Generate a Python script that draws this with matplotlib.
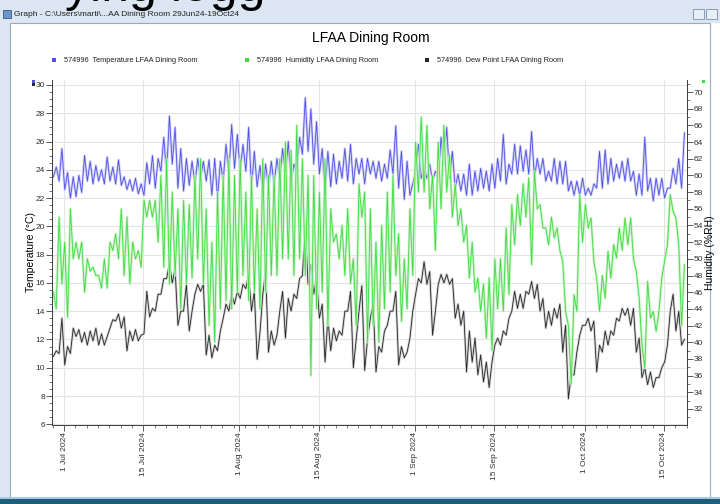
import numpy as np
import pandas as pd
import matplotlib
matplotlib.use('Agg')
import matplotlib.pyplot as plt
from matplotlib.patches import Rectangle

plt.rcParams['font.family'] = ['Liberation Sans', 'DejaVu Sans']

# ===== logger readings, twice a day (03:00 / 15:00), 29 Jun - 18 Oct 2024 =====
temp_am = [23.5, 23.2, 22.6, 22.0, 22.1, 22.4, 23.2, 23.0, 23.2, 23.0, 23.2, 23.0, 22.9, 22.6, 22.5, 22.3,
           22.2, 23.0, 22.7, 23.9, 23.7, 24.4, 22.7, 22.5, 22.9, 23.0, 23.4, 23.2, 22.2, 22.0, 23.2, 23.7,
           24.1, 23.9, 23.9, 22.7, 22.8, 22.5, 22.7, 23.0, 23.4, 23.7, 23.2, 23.9, 25.1, 25.3, 24.4, 23.7,
           22.5, 22.8, 23.0, 23.4, 23.2, 23.0, 23.7, 23.0, 23.7, 23.4, 23.2, 23.4, 23.7, 22.7, 21.9, 22.2,
           23.9, 23.4, 23.4, 23.2, 23.4, 24.4, 23.4, 22.7, 22.5, 22.2, 22.2, 22.5, 22.7, 22.5, 22.7, 23.2,
           23.0, 23.7, 23.7, 23.9, 23.7, 23.4, 23.7, 23.2, 23.2, 23.0, 23.0, 22.5, 22.2, 22.2, 22.2, 22.2,
           22.7, 22.7, 23.0, 23.2, 23.4, 23.2, 23.2, 22.2, 22.2, 22.5, 21.8, 22.2, 22.0, 22.7, 23.0, 22.7]
temp_pm = [24.2, 25.5, 23.8, 23.5, 23.6, 25.0, 24.6, 24.3, 24.0, 24.9, 24.2, 24.7, 23.5, 23.3, 23.4, 23.0,
           24.5, 25.0, 24.8, 26.3, 27.8, 27.0, 25.5, 24.8, 24.6, 24.8, 24.6, 24.7, 24.8, 24.6, 25.8, 27.2,
           26.5, 25.8, 27.0, 25.3, 24.3, 24.4, 24.6, 24.8, 25.5, 26.0, 24.4, 26.3, 29.1, 28.3, 27.4, 25.5,
           25.3, 25.1, 24.6, 25.5, 25.8, 24.8, 24.8, 24.8, 24.6, 24.6, 24.4, 25.4, 27.1, 25.3, 24.6, 23.0,
           25.8, 24.1, 24.4, 23.9, 26.3, 27.0, 25.3, 23.7, 23.7, 24.4, 23.9, 24.1, 23.9, 24.4, 24.8, 26.5,
           24.4, 25.8, 25.7, 25.4, 26.7, 24.8, 24.8, 23.9, 24.8, 24.6, 24.6, 23.2, 23.2, 23.4, 22.7, 23.0,
           25.3, 25.4, 24.8, 24.4, 24.6, 24.8, 23.9, 23.7, 26.3, 23.4, 23.4, 23.4, 22.7, 24.1, 24.8, 26.6]

hum_am = [46, 55, 52, 56, 52, 52, 50, 49, 48, 50, 52, 53, 56, 55, 52, 51,
          57, 57, 57, 60, 62, 58, 56, 57, 56.5, 60, 62, 56, 52, 58, 60, 62,
          60, 62, 58, 60, 56, 62, 60, 60, 62, 64, 63, 66, 62, 60, 60, 58,
          62, 56, 53, 54, 56, 50, 59, 58, 56, 52, 54, 58, 60, 53, 50, 56,
          64, 67, 66, 60, 64, 66, 62.5, 59, 56, 54, 52, 47.7, 47, 47.7, 50, 50,
          53.7, 56.5, 57.7, 59, 59.7, 60.5, 56.5, 53.7, 55, 53.7, 49.7, 42, 45.7, 57.7, 56.5, 54.9,
          47.7, 48, 50.9, 51.7, 53.7, 54.9, 54.9, 48.5, 39.7, 47.3, 43.7, 43.7, 49.7, 57.7, 54.9, 42]
hum_pm = [44, 47, 43, 50, 50, 46, 48.5, 48, 46.5, 46.5, 51, 50, 48, 47, 50, 49,
          55, 55, 52, 49, 47, 48, 44, 47, 47.7, 50, 47, 42, 40, 44, 45, 44,
          46, 48, 45, 46, 44, 46, 48, 48, 50, 50, 48, 50, 48, 36, 44, 46,
          42, 52, 50, 48, 47, 42, 55, 40, 42, 40, 44, 46, 48, 42.5, 44, 48,
          58, 58, 56, 51, 56, 58, 55, 54, 52, 47.7, 46, 43.7, 40.5, 39, 44, 43.7,
          45.7, 51.7, 54, 55, 49.3, 56, 53.7, 51.7, 52.5, 51, 43.7, 35, 43.7, 52, 53.7, 49.7,
          43.7, 45.3, 47.7, 50.1, 51, 51.7, 50, 45.3, 36.9, 42.9, 41.3, 47.7, 51.7, 55.7, 51.7, 49.3]

dew_am = [10.8, 11.0, 10.2, 11.0, 12.2, 11.8, 11.6, 11.9, 11.6, 11.6, 12.8, 13.3, 12.8, 11.2, 11.9, 11.9,
          12.4, 13.6, 14.0, 15.2, 16.3, 16.0, 13.0, 14.0, 12.6, 15.2, 15.4, 10.9, 10.7, 11.2, 13.5, 14.0,
          14.5, 14.9, 15.6, 14.0, 10.6, 15.2, 11.1, 11.6, 14.0, 12.1, 14.0, 14.9, 16.5, 15.9, 15.2, 13.5,
          10.4, 11.2, 11.9, 12.3, 14.0, 10.0, 14.0, 9.8, 13.5, 9.7, 11.1, 13.0, 14.0, 10.2, 10.7, 12.1,
          15.2, 16.0, 15.9, 12.3, 15.9, 16.0, 15.9, 13.5, 13.0, 9.7, 10.4, 9.5, 9.0, 8.6, 11.6, 11.6,
          12.3, 14.0, 14.2, 14.2, 15.2, 14.9, 14.0, 12.8, 13.0, 13.5, 11.1, 7.8, 9.5, 12.3, 13.0, 12.6,
          9.7, 11.1, 11.6, 12.3, 13.3, 13.7, 13.0, 11.1, 9.3, 8.8, 8.6, 9.3, 10.4, 14.0, 12.6, 11.6]
dew_pm = [11.2, 13.5, 11.5, 12.8, 12.7, 12.5, 12.6, 12.8, 12.4, 12.2, 13.4, 13.8, 13.6, 12.6, 12.7, 12.3,
          15.4, 14.2, 15.2, 16.3, 17.4, 17.0, 14.0, 15.9, 14.0, 15.9, 15.9, 12.3, 11.6, 12.6, 14.5, 15.2,
          15.4, 15.9, 16.6, 15.4, 12.5, 16.8, 12.6, 12.3, 15.4, 14.9, 15.2, 16.3, 19.9, 17.3, 16.3, 14.5,
          13.5, 12.8, 12.6, 14.0, 15.4, 12.0, 15.8, 12.0, 14.5, 11.5, 12.6, 14.0, 15.4, 11.5, 11.1, 14.0,
          16.3, 17.5, 16.8, 14.0, 16.6, 16.6, 16.3, 14.5, 14.0, 12.6, 12.1, 10.9, 10.4, 10.4, 12.1, 12.6,
          13.5, 15.4, 15.2, 15.4, 16.1, 15.9, 14.9, 14.0, 14.2, 14.5, 13.0, 9.5, 11.1, 13.0, 13.5, 13.3,
          11.6, 12.6, 12.6, 13.5, 14.2, 14.2, 14.2, 12.1, 10.0, 9.7, 9.3, 10.0, 11.6, 15.2, 14.0, 12.0]

tick_dates = ['2024-07-01', '2024-07-15', '2024-08-01', '2024-08-15',
              '2024-09-01', '2024-09-15', '2024-10-01', '2024-10-15']
tick_labels = ['1 Jul 2024', '15 Jul 2024', '1 Aug 2024', '15 Aug 2024',
               '1 Sep 2024', '15 Sep 2024', '1 Oct 2024', '15 Oct 2024']
legend_names = ['574996  Temperature LFAA Dining Room',
                '574996  Humidity LFAA Dining Room',
                '574996  Dew Point LFAA Dining Room']

C_TEMP, C_HUM, C_DEW = '#5050e6', '#3fdc3f', '#262626'
H_TEMP, H_HUM, H_DEW = '#cfcff6', '#c6f3c6', '#d2d2d2'


def interleave(a, b):
    out = np.empty(2 * len(a))
    out[0::2] = a
    out[1::2] = b
    return out


days = pd.date_range('2024-06-29', periods=len(temp_am), freq='D')
t = np.empty(2 * len(days), dtype='datetime64[ns]')
t[0::2] = (days + pd.Timedelta(hours=3)).values
t[1::2] = (days + pd.Timedelta(hours=15)).values

temp = interleave(temp_am, temp_pm)
hum = interleave(hum_am, hum_pm)
dew = interleave(dew_am, dew_pm)

W, H = 720, 504
fig = plt.figure(figsize=(7.2, 5.04), dpi=100)


def fx(px):
    return px / W


def fy(py):
    return 1 - py / H


# ----- window frame -----
fig.add_artist(Rectangle((0, fy(23)), 1, 23 / H, transform=fig.transFigure,
                         facecolor='#dce6f2', edgecolor='none', zorder=0))
fig.add_artist(Rectangle((0, 0), fx(10), 1, transform=fig.transFigure,
                         facecolor='#dce6f2', edgecolor='none', zorder=0))
fig.add_artist(Rectangle((fx(10), fy(497)), fx(700), 474 / H, transform=fig.transFigure,
                         facecolor='white', edgecolor='#9aaabd', lw=0.8, zorder=0))
fig.add_artist(Rectangle((0, 0), 1, 6 / H, transform=fig.transFigure,
                         facecolor='#1d5f7a', edgecolor='none', zorder=0))
fig.add_artist(Rectangle((0, fy(499)), 1, 2 / H, transform=fig.transFigure,
                         facecolor='#a9c8e6', edgecolor='none', zorder=0))
fig.add_artist(Rectangle((fx(3), fy(18)), fx(8), 8 / H, transform=fig.transFigure,
                         facecolor='#6f95c8', edgecolor='#35598c', lw=0.6, zorder=1))
for bx in (693, 706):
    fig.add_artist(Rectangle((fx(bx), fy(19)), fx(11), 10 / H, transform=fig.transFigure,
                             facecolor='#e8eef6', edgecolor='#7d8ea6', lw=0.6, zorder=1))
fig.text(fx(14), fy(14.5), r'Graph - C:\Users\marti\...AA Dining Room 29Jun24-19Oct24',
         fontsize=6, color='#202020', va='center', ha='left', zorder=3)
# page text behind the window, only its lower edge shows
fig.text(fx(65), fy(1), 'ying logg', fontsize=36, color='black', va='baseline', ha='left', zorder=2)

# ----- title and legend -----
fig.text(fx(371), fy(38), 'LFAA Dining Room', fontsize=10, ha='center', va='center')
for (sx, name, c) in zip((54, 247, 427), legend_names, (C_TEMP, C_HUM, C_DEW)):
    fig.add_artist(Rectangle((fx(sx - 2), fy(62)), fx(4), 4 / H, transform=fig.transFigure,
                             facecolor=c, edgecolor='none'))
    fig.text(fx(sx + 10), fy(60), name, fontsize=5.3, ha='left', va='center', color='#202020')

# ----- plot -----
ax = fig.add_axes([fx(52), fy(425), fx(635), 345 / H])
ax2 = ax.twinx()

ax.plot(t, temp, color=H_TEMP, lw=1.8, solid_joinstyle='round')
ax.plot(t, dew, color=H_DEW, lw=1.8, solid_joinstyle='round')
ax.plot(t, temp, color=C_TEMP, lw=0.6)
ax.plot(t, dew, color=C_DEW, lw=0.6)
ax2.plot(t, hum, color=H_HUM, lw=1.8, solid_joinstyle='round')
ax2.plot(t, hum, color=C_HUM, lw=0.6)

ax.set_xlim(pd.Timestamp('2024-06-28 21:00'), pd.Timestamp('2024-10-19 02:00'))
ax.set_ylim(5.95, 30.35)
ax2.set_ylim(30.08, 71.44)

ax.set_xticks(pd.to_datetime(tick_dates))
ax.set_xticklabels(tick_labels, rotation=90, fontsize=5.5, color='#303030')
ax.set_xticks(pd.date_range('2024-06-29', '2024-10-19', freq='2D'), minor=True)
ax.set_yticks(np.arange(6, 31, 2))
ax.set_yticks(np.arange(6, 30.4, 0.5), minor=True)
ax2.set_yticks(np.arange(32, 71, 2))
ax2.set_yticks(np.arange(31, 71.4, 1), minor=True)

for a in (ax, ax2):
    a.tick_params(which='major', length=4, width=0.6, color='#404040', labelsize=6, labelcolor='#303030', pad=1)
    a.tick_params(which='minor', length=2, width=0.5, color='#404040')
    a.spines['top'].set_visible(False)
    for s in ('left', 'right', 'bottom'):
        a.spines[s].set_color('#404040')
        a.spines[s].set_linewidth(0.7)

ax.grid(True, which='major', color='#e4e4e4', lw=0.8)
ax.set_axisbelow(True)
ax.set_ylabel('Temperature (°C)', fontsize=7.5, labelpad=0)
ax2.set_ylabel('Humidity (%RH)', fontsize=7.5, rotation=90, labelpad=1)

# series markers at the axis tops
fig.add_artist(Rectangle((fx(32), fy(83)), fx(3), 3 / H, transform=fig.transFigure, facecolor=C_TEMP, edgecolor='none'))
fig.add_artist(Rectangle((fx(32), fy(86)), fx(3), 3 / H, transform=fig.transFigure, facecolor=C_DEW, edgecolor='none'))
fig.add_artist(Rectangle((fx(702), fy(83)), fx(3), 3 / H, transform=fig.transFigure, facecolor=C_HUM, edgecolor='none'))

plt.savefig('out.png', dpi=100)
